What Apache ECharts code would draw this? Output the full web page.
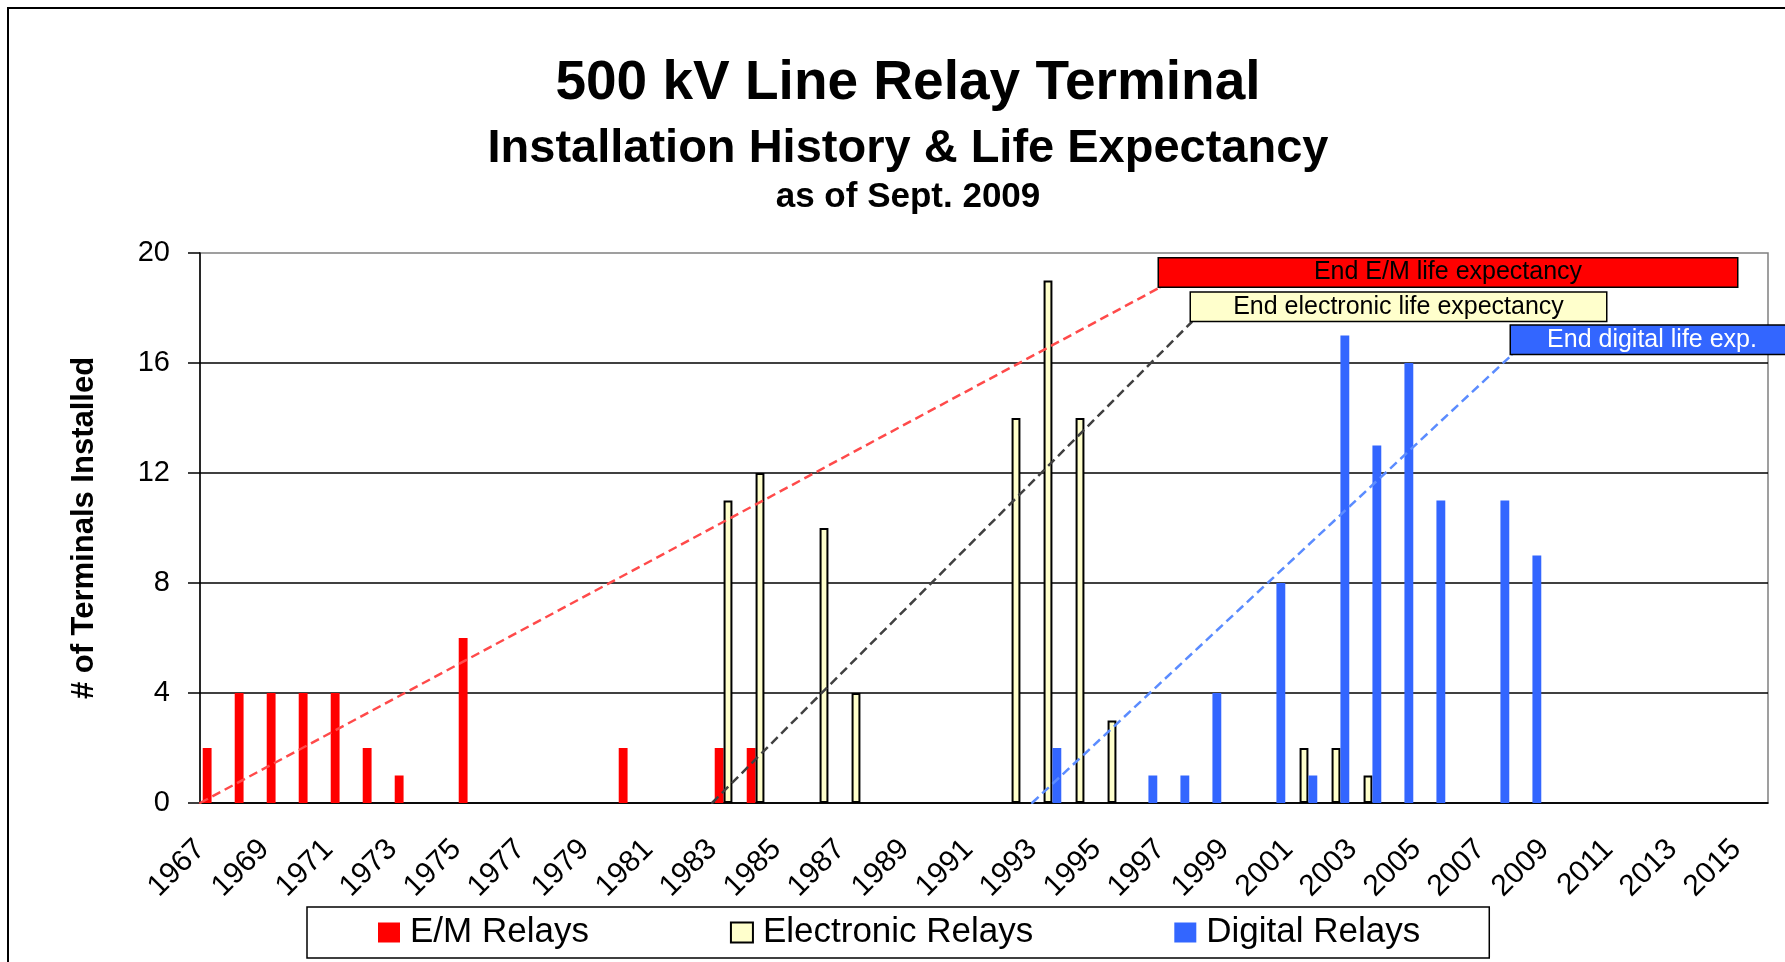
<!DOCTYPE html>
<html>
<head>
<meta charset="utf-8">
<script src="https://cdn.jsdelivr.net/npm/echarts@6/dist/echarts.min.js"></script>
<style>
html, body { margin: 0; padding: 0; background: #fff; }
#chart { width: 1785px; height: 962px; }
</style>
</head>
<body>
<div id="chart"></div>
<script>
// 年份 (每年一个柱位)
var years = ['1967', '1968', '1969', '1970', '1971', '1972', '1973', '1974', '1975', '1976',
    '1977', '1978', '1979', '1980', '1981', '1982', '1983', '1984', '1985', '1986',
    '1987', '1988', '1989', '1990', '1991', '1992', '1993', '1994', '1995', '1996',
    '1997', '1998', '1999', '2000', '2001', '2002', '2003', '2004', '2005', '2006',
    '2007', '2008', '2009', '2010', '2011', '2012', '2013', '2014', '2015'];

var emRelays = [2, 4, 4, 4, 4, 2, 1, 0, 6, 0,
    0, 0, 0, 2, 0, 0, 2, 2, 0, 0,
    0, 0, 0, 0, 0, 0, 0, 0, 0, 0,
    0, 0, 0, 0, 0, 0, 0, 0, 0, 0,
    0, 0, 0, 0, 0, 0, 0, 0, 0];

var electronicRelays = [0, 0, 0, 0, 0, 0, 0, 0, 0, 0,
    0, 0, 0, 0, 0, 0, 11, 12, 0, 10,
    4, 0, 0, 0, 0, 14, 19, 14, 3, 0,
    0, 0, 0, 0, 2, 2, 1, 0, 0, 0,
    0, 0, 0, 0, 0, 0, 0, 0, 0];

var digitalRelays = [0, 0, 0, 0, 0, 0, 0, 0, 0, 0,
    0, 0, 0, 0, 0, 0, 0, 0, 0, 0,
    0, 0, 0, 0, 0, 0, 2, 0, 0, 1,
    1, 4, 0, 8, 1, 17, 13, 16, 11, 0,
    11, 9, 0, 0, 0, 0, 0, 0, 0];

// 寿命线: 起始年份 -> 结束年份, 结束处的高度
var lifeNames = ['End E/M life expectancy', 'End electronic life expectancy', 'End digital life exp.'];
var lifeStart = ['1967', '1983', '1993'];
var lifeEnd = ['1997', '1998', '2008'];
var lifeLevel = [18.75, 17.5, 16.3];

var font = "'Liberation Sans', Arial, sans-serif";
var lifeStyle = [
    { line: '#ff4a4a', fill: '#ff0000', text: '#000', width: 578 },
    { line: '#404040', fill: '#ffffcc', text: '#000', width: 415 },
    { line: '#5b8cff', fill: '#3366ff', text: '#fff', width: 282 }
];

var chart = echarts.init(document.getElementById('chart'));

function noZero(arr) {
    return arr.map(function (v) { return v === 0 ? null : v; });
}

var series = [
    { name: 'E/M Relays', type: 'bar', data: noZero(emRelays), barGap: '0%', barCategoryGap: '17%',
      itemStyle: { color: '#ff0000' } },
    { name: 'Electronic Relays', type: 'bar', data: noZero(electronicRelays),
      itemStyle: { color: '#ffffcc', borderColor: '#000', borderWidth: 2 } },
    { name: 'Digital Relays', type: 'bar', data: noZero(digitalRelays),
      itemStyle: { color: '#3366ff' } }
];

for (var i = 0; i < lifeNames.length; i++) {
    var st = lifeStyle[i];
    series.push({
        name: lifeNames[i],
        type: 'line',
        xAxisIndex: 1,
        yAxisIndex: 0,
        z: 5,
        silent: true,
        symbol: 'circle',
        symbolSize: 2,
        itemStyle: { color: st.line },
        lineStyle: { color: st.line, width: 2.5, type: [9, 5] },
        label: { show: false },
        data: [
            [years.indexOf(lifeStart[i]), 0],
            {
                value: [years.indexOf(lifeEnd[i]), lifeLevel[i]],
                label: {
                    show: true,
                    formatter: lifeNames[i],
                    position: [st.width / 2, -14],
                    align: 'center',
                    verticalAlign: 'middle',
                    width: st.width,
                    height: 28,
                    lineHeight: 28,
                    padding: 0,
                    backgroundColor: st.fill,
                    borderColor: '#000',
                    borderWidth: 1.5,
                    color: st.text,
                    fontSize: 25,
                    fontFamily: font
                }
            }
        ]
    });
}

var option = {
    animation: false,
    textStyle: { fontFamily: font, color: '#000' },
    title: [
        { text: '500 kV Line Relay Terminal', left: 903, textAlign: 'center', top: 51,
          textStyle: { fontSize: 55, fontWeight: 'bold', lineHeight: 55, color: '#000' } },
        { text: 'Installation History & Life Expectancy', left: 903, textAlign: 'center', top: 121,
          textStyle: { fontSize: 47, fontWeight: 'bold', lineHeight: 47, color: '#000' } },
        { text: 'as of Sept. 2009', left: 903, textAlign: 'center', top: 175,
          textStyle: { fontSize: 35, fontWeight: 'bold', lineHeight: 35, color: '#000' } }
    ],
    graphic: [{
        type: 'rect', silent: true, z: -10,
        shape: { x: 8, y: 8, width: 1800, height: 1000 },
        style: { fill: 'none', stroke: '#000', lineWidth: 2 }
    }],
    legend: {
        data: ['E/M Relays', 'Electronic Relays', 'Digital Relays'],
        left: 307,
        top: 907,
        padding: [8, 69, 8, 71],
        borderColor: '#000',
        borderWidth: 1.5,
        itemGap: 141,
        itemWidth: 22,
        itemHeight: 20,
        icon: 'rect',
        textStyle: { fontSize: 35, color: '#000', padding: [0, 0, 0, 5] }
    },
    grid: {
        left: 200, right: 17, top: 253, bottom: 159,
        show: true, borderColor: '#808080', borderWidth: 1.5
    },
    xAxis: [{
        type: 'category',
        data: years,
        boundaryGap: true,
        axisLine: { lineStyle: { color: '#000', width: 1.5 } },
        axisTick: { interval: 0, length: 11, lineStyle: { color: '#000', width: 1.5 } },
        axisLabel: { interval: 1, rotate: 45, fontSize: 30, color: '#000', margin: 26, padding: [0, 22, 0, 0] },
        splitLine: { show: false }
    }, {
        type: 'value', min: 0, max: 49, show: false
    }],
    yAxis: {
        type: 'value',
        min: 0,
        max: 20,
        interval: 4,
        name: '# of Terminals Installed',
        nameLocation: 'middle',
        nameGap: 100,
        nameTextStyle: { fontSize: 31, fontWeight: 'bold', color: '#000' },
        axisLine: { show: true, lineStyle: { color: '#000', width: 1.5 } },
        axisTick: { show: true, length: 12, lineStyle: { color: '#000', width: 1.5 } },
        axisLabel: { fontSize: 29, color: '#000', margin: 30 },
        splitLine: { showMaxLine: false, lineStyle: { color: '#000', width: 1.5 } }
    },
    series: series
};

chart.setOption(option);
</script>
</body>
</html>
